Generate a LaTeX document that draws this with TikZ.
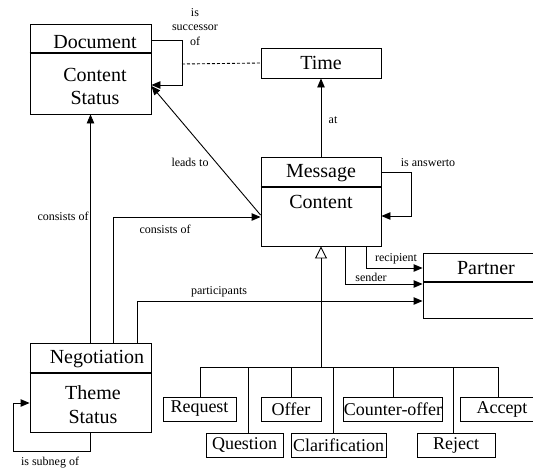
\documentclass[tikz,border=0pt]{standalone}
\usepackage{fontspec}
\setmainfont{Liberation Serif}
\usetikzlibrary{arrows.meta}

\begin{document}
\begin{tikzpicture}[x=1pt,y=-1pt,
    box/.style={draw,line width=0.9pt,inner sep=0pt},
    head/.style={font=\fontsize{20}{22}\selectfont},
    sub/.style={box,minimum height=24pt,font=\fontsize{18}{20}\selectfont},
    lbl/.style={font=\fontsize{12}{14.5}\selectfont,align=center},
    link/.style={line width=0.9pt,-{Triangle[length=9pt,width=7.5pt]}},
    isa/.style={line width=0.9pt},
    sep/.style={line width=1.6pt}]
    \useasboundingbox (0,0) rectangle (533,469);
    \clip (0,0) rectangle (533,469);

    % classes
    \node[box,minimum width=121pt,minimum height=90pt] (doc) at (90.5,69) {};
    \draw[sep] (doc.west |- 0,53) -- (doc.east |- 0,53);
    \node[head] (docname) at (95,42) {Document};
    \node[head] (docattr1) at (95,75) {Content};
    \node[head] (docattr2) at (95,98) {Status};

    \node[box,head,minimum width=120pt,minimum height=30pt] (time) at (321,63) {Time};

    \node[box,minimum width=120pt,minimum height=89pt] (msg) at (321,201.5) {};
    \draw[sep] (msg.west |- 0,187) -- (msg.east |- 0,187);
    \node[head] (msgname) at (321,173) {Message};
    \node[head] (msgattr) at (321,202) {Content};

    \node[box,minimum width=121pt,minimum height=89pt] (neg) at (90.5,387.5) {};
    \draw[sep] (neg.west |- 0,373) -- (neg.east |- 0,373);
    \node[head] (negname) at (97,359) {Negotiation};
    \node[head] (negattr1) at (93,393) {Theme};
    \node[head] (negattr2) at (93,417) {Status};

    \node[box,minimum width=126pt,minimum height=65pt] (partner) at (486,285.5) {};
    \draw[sep] (partner.west |- 0,282) -- (partner.east |- 0,282);
    \node[head] (partnername) at (486,268) {Partner};

    % message kinds
    \node[sub,minimum width=73pt] (request) at (199.5,409) {Request};
    \node[sub,minimum width=77pt] (question) at (244.5,445) {Question};
    \node[sub,minimum width=60pt] (offer) at (291,409) {Offer};
    \node[sub,minimum width=95pt] (clarif) at (338.5,445) {Clarification};
    \node[sub,minimum width=96pt] (counter) at (393,409) {Counter-offer};
    \node[sub,minimum width=78pt] (reject) at (456,445) {Reject};
    \node[sub,minimum width=84pt] (accept) at (502,409) {Accept};

    % generalisation
    \coordinate (bar) at (321,367);
    \draw[isa,-{Triangle[open,length=12pt,width=12pt]}] (bar) -- (msg.south);
    \foreach \n/\x in {request/200,question/248,offer/291,clarif/333,counter/393,reject/453,accept/498}
        \draw[isa] (\n.north -| \x,0) |- (bar);

    % associations
    \draw[link] (doc.east |- 0,40) -| (182,85) -- (doc.east |- 0,85);
    \node[lbl] at (195,27) {is\\successor\\of};
    \draw[line width=0.9pt,dash pattern=on 3pt off 2pt] (182,64) -- (time.west);

    \draw[link] (msg.north) -- (time.south);
    \node[lbl] at (333,120) {at};

    \draw[link] (msg.east |- 0,172) -| (411,216) -- (msg.east |- 0,216);
    \node[lbl] at (428,163) {is answerto};

    \draw[link] (msg.west |- 0,215) -- (doc.east |- 0,86);
    \node[lbl] at (190,162) {leads to};

    \draw[link] (neg.north) -- (doc.south);
    \node[lbl] at (63,216) {consists of};

    \draw[link] (neg.north -| 113,0) |- (msg.west |- 0,217);
    \node[lbl] at (165,229) {consists of};

    \draw[link] (neg.north -| 137,0) |- (partner.west |- 0,301);
    \node[lbl] at (219,292) {participants};

    \draw[link] (msg.south -| 366,0) |- (partner.west |- 0,268);
    \node[lbl] at (396,259) {recipient};

    \draw[link] (msg.south -| 345,0) |- (partner.west |- 0,284);
    \node[lbl] at (371,277) {sender};

    \draw[link] (neg.south) |- (13,451) |- (neg.west |- 0,403);
    \node[lbl] at (50,463) {is subneg of};
\end{tikzpicture}
\end{document}
